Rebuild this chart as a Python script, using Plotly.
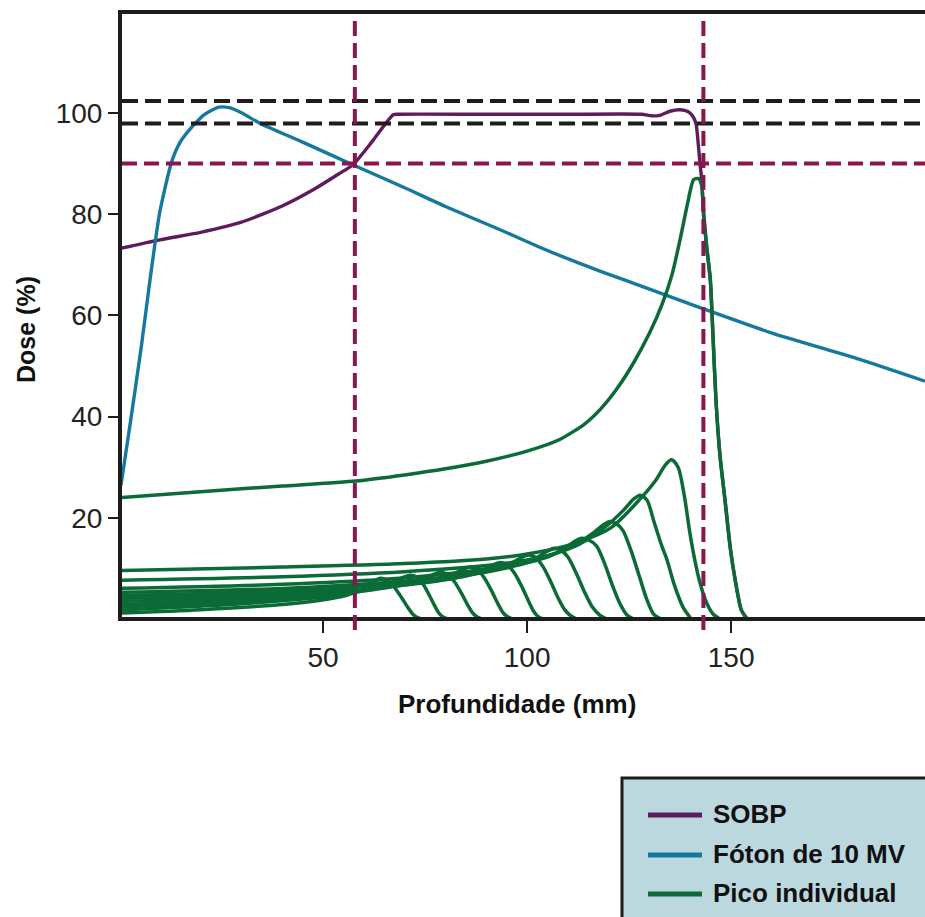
import plotly.graph_objects as go

# ---------------- data ----------------
SOBP_X = [0.3, 10, 20, 30, 40, 48, 54, 57.4, 62.3, 67.2, 68.5, 90, 110, 128, 130.5, 132.5, 135,
          137.5, 139.5, 140.6, 141.4, 142.0, 142.4, 142.8, 143.2, 144, 144.9, 145.6, 146.3, 147.3, 148.5,
          149.8, 151, 152.5, 154]
SOBP_Y = [73.2, 74.9, 76.4, 78.4, 81.6, 85.0, 88.0, 89.8, 94.6, 99.6, 99.7, 99.7, 99.7, 99.7, 99.4, 99.5, 100.3,
          100.6, 100.2, 99.3, 97.8, 93.3, 89.7, 86.7, 80.2, 73.6, 67.0, 55.0, 43.0, 32.0, 23.5,
          14.0, 7.7, 1.8, 0.0]

PHOTON_X = [0.5, 3.0, 5.5, 7.6, 10.0, 12.9, 15.0, 18.1, 21.0, 24.5, 27.0, 30.0, 34.6, 45, 57.4, 70, 80,
            93.4, 105, 118, 130, 142.5, 160, 180, 197.5]
PHOTON_Y = [26.5, 40.0, 54.0, 67.0, 80.4, 90.3, 94.2, 97.4, 99.7, 101.1, 101.0, 100.0, 97.9, 94.2, 89.7, 85.2,
            81.5, 76.9, 72.8, 68.7, 65.2, 61.5, 56.5, 51.7, 47.0]

PRISTINE_X = [0, 20, 40, 58, 70, 80, 90, 100, 108, 114, 118, 122, 126, 130, 133, 135.5, 137.5, 139.3, 140.8, 142.1,
              142.8, 143.3, 144, 144.9, 145.6, 146.3, 147.3, 148.5, 149.8, 151, 152.5, 154]
PRISTINE_Y = [24.0, 25.2, 26.3, 27.3, 28.5, 29.7, 31.2, 33.2, 35.5, 38.5, 41.5, 45.5, 50.5, 56.5, 62.0, 68.0, 75.0,
              82.0, 86.8, 87.0, 85.5, 80.0, 73.6, 67.0, 55.0, 43.0, 32.0, 23.5, 14.0, 7.7, 1.8, 0.0]

PEAK_A_X = [0, 40, 70, 90, 100, 110, 120.4, 127.4, 131.4, 133.9, 135.4, 137, 138.5, 139.9, 141.2, 142.4, 144, 145.6, 147]
PEAK_A_Y = [9.6, 10.3, 11.0, 11.9, 12.9, 14.6, 18.0, 23.5, 27.3, 30.5, 31.5, 30.0, 24.5, 17.0, 11.3, 7.1, 3.2, 1.0, 0.2]
PEAK_B_X = [0, 40, 70, 90, 100, 106, 112.7, 119.7, 123.7, 126.2, 127.7, 129.4, 131, 133, 134.3, 136, 138.2, 140]
PEAK_B_Y = [7.7, 8.4, 9.4, 10.6, 11.7, 12.8, 14.8, 18.6, 21.6, 23.8, 24.5, 23.5, 19.5, 14.5, 11.7, 7.0, 2.4, 0.3]
PEAK_C_X = [0, 40, 65, 85, 95, 105.3, 112.3, 116.3, 118.8, 120.3, 122, 123.5, 125.5, 127.5, 129.3, 131, 132.5]
PEAK_C_Y = [6.1, 6.9, 7.9, 9.4, 10.6, 12.5, 15.0, 17.1, 18.7, 19.3, 18.8, 17.5, 13.5, 8.5, 4.0, 1.0, 0.2]
PEAK_D_X = [0, 40, 65, 80, 90.4, 98.4, 105.4, 109.4, 111.9, 113.4, 115, 117, 119, 121, 122.8, 124.4, 125.8]
PEAK_D_Y = [5.3, 6.1, 7.2, 8.3, 9.4, 10.8, 12.4, 14.1, 15.5, 16.0, 15.7, 14.5, 11.0, 6.5, 3.0, 0.9, 0.2]
PEAK_E_X = [0, 40, 60, 75, 84, 91.6, 98.6, 102.6, 105.1, 106.6, 108.3, 110, 112, 114, 116, 117.8, 119.2]
PEAK_E_Y = [4.7, 5.6, 6.6, 7.7, 8.7, 9.7, 11.1, 12.3, 13.5, 14.0, 13.6, 12.3, 9.2, 5.5, 2.4, 0.8, 0.2]
PEAK_F_X = [0, 40, 60, 72, 80, 85.2, 92.2, 96.2, 98.7, 100.2, 101.9, 103.9, 105.8, 107.6, 109.2, 110.5, 111.8]
PEAK_F_Y = [4.1, 5.1, 6.2, 7.1, 7.9, 8.6, 9.9, 11.1, 12.2, 12.7, 12.3, 10.4, 7.4, 4.2, 1.9, 0.8, 0.2]
PEAK_G_X = [0, 35, 55, 68, 74, 78.4, 85.4, 89.4, 91.9, 93.4, 95.1, 97, 98.8, 100.4, 101.6, 102.6, 103.8]
PEAK_G_Y = [3.5, 4.5, 5.6, 6.6, 7.1, 7.6, 8.7, 9.8, 10.8, 11.2, 10.8, 9.0, 6.3, 3.5, 1.6, 0.6, 0.1]
PEAK_H_X = [0, 30, 50, 62, 71, 78, 82, 84.5, 86, 87.7, 89.5, 91.3, 92.9, 94.1, 95.2, 96.3]
PEAK_H_Y = [2.9, 3.9, 5.0, 6.0, 6.9, 8.0, 9.0, 9.9, 10.3, 9.9, 8.2, 5.6, 3.0, 1.3, 0.5, 0.1]
PEAK_I_X = [0, 30, 48, 58, 63.7, 70.7, 74.7, 77.2, 78.7, 80.4, 82.2, 84, 85.6, 86.7, 87.7, 88.8]
PEAK_I_Y = [2.4, 3.5, 4.6, 5.4, 6.0, 7.1, 8.1, 8.9, 9.3, 8.9, 7.4, 5.0, 2.6, 1.2, 0.5, 0.1]
PEAK_J_X = [0, 25, 42, 52, 56.3, 63.3, 67.3, 69.8, 71.3, 73, 74.6, 76.2, 77.6, 78.6, 79.5, 80.5]
PEAK_J_Y = [1.8, 2.8, 3.8, 4.6, 5.1, 6.3, 7.4, 8.3, 8.7, 8.3, 6.8, 4.5, 2.3, 1.0, 0.4, 0.1]
PEAK_K_X = [0, 20, 40, 49, 56, 60, 62.5, 64, 65.7, 67.5, 69.3, 70.9, 72, 73, 74]
PEAK_K_Y = [1.2, 1.9, 2.9, 3.7, 4.8, 6.2, 7.5, 8.1, 7.7, 6.3, 4.2, 2.2, 1.0, 0.4, 0.1]

SMALL_PEAKS = [(PEAK_A_X, PEAK_A_Y), (PEAK_B_X, PEAK_B_Y), (PEAK_C_X, PEAK_C_Y), (PEAK_D_X, PEAK_D_Y),
               (PEAK_E_X, PEAK_E_Y), (PEAK_F_X, PEAK_F_Y), (PEAK_G_X, PEAK_G_Y), (PEAK_H_X, PEAK_H_Y),
               (PEAK_I_X, PEAK_I_Y), (PEAK_J_X, PEAK_J_Y), (PEAK_K_X, PEAK_K_Y)]

REF_DOSE_BLACK = [102.3, 97.9]
REF_DOSE_PURPLE = [90.0]
REF_DEPTH_PURPLE = [57.8, 143.2]

X_TICKS = [50, 100, 150]
Y_TICKS = [20, 40, 60, 80, 100]
LEGEND_LABELS = ["SOBP", "Fóton de 10 MV", "Pico individual"]

# ---------------- styles ----------------
C_SOBP = "#5f1b5c"
C_PHOTON = "#15789f"
C_PEAK = "#0a6b36"
C_DASH_P = "#8a1650"
C_BLACK = "#1f1c1d"
FONT = "Liberation Sans, Arial, sans-serif"

W, H = 925, 917
L, R, T, B = 122, 0, 14, 300
PW, PH = W - L - R, H - T - B


def px(xp):
    return (xp - L) / PW


def py(yp):
    return (H - B - yp) / PH


fig = go.Figure()

fig.add_trace(go.Scatter(x=SOBP_X, y=SOBP_Y, mode="lines", line=dict(color=C_SOBP, width=3.4, shape="spline", smoothing=0.6),
                         showlegend=False, hoverinfo="skip"))
fig.add_trace(go.Scatter(x=PHOTON_X, y=PHOTON_Y, mode="lines", line=dict(color=C_PHOTON, width=3.4, shape="spline", smoothing=0.6),
                         showlegend=False, hoverinfo="skip"))
fig.add_trace(go.Scatter(x=PRISTINE_X, y=PRISTINE_Y, mode="lines", line=dict(color=C_PEAK, width=3.5, shape="spline", smoothing=0.6),
                         showlegend=False, hoverinfo="skip"))
for xs, ys in SMALL_PEAKS:
    fig.add_trace(go.Scatter(x=xs, y=ys, mode="lines", line=dict(color=C_PEAK, width=3.5, shape="spline", smoothing=0.8),
                             showlegend=False, hoverinfo="skip"))

shapes = []
for yv in REF_DOSE_BLACK:
    shapes.append(dict(type="line", xref="paper", yref="y", x0=0, x1=1, y0=yv, y1=yv,
                       line=dict(color=C_BLACK, width=4, dash="16px,7px"), layer="above"))
for yv in REF_DOSE_PURPLE:
    shapes.append(dict(type="line", xref="paper", yref="y", x0=0, x1=1, y0=yv, y1=yv,
                       line=dict(color=C_DASH_P, width=4, dash="15px,7px"), layer="above"))
for xv in REF_DEPTH_PURPLE:
    shapes.append(dict(type="line", xref="x", yref="paper", x0=xv, x1=xv, y0=py(630), y1=1,
                       line=dict(color=C_DASH_P, width=4, dash="15px,7px"), layer="above"))

# legend box (custom)
shapes.append(dict(type="rect", xref="paper", yref="paper", x0=px(622), x1=px(935), y0=py(778), y1=py(935),
                   line=dict(color=C_BLACK, width=3), fillcolor="#bcd8df", layer="above"))
row_y = [814, 854, 893]
leg_colors = [C_SOBP, C_PHOTON, C_PEAK]
annotations = []
for lab, col, ry in zip(LEGEND_LABELS, leg_colors, row_y):
    shapes.append(dict(type="line", xref="paper", yref="paper", x0=px(648), x1=px(702), y0=py(ry + 1), y1=py(ry + 1),
                       line=dict(color=col, width=5), layer="above"))
    annotations.append(dict(xref="paper", yref="paper", x=px(711), y=py(ry), xanchor="left", yanchor="middle",
                            text="<b>" + lab + "</b>", showarrow=False,
                            font=dict(family=FONT, size=26, color="#111111")))

annotations.append(dict(xref="paper", yref="paper", x=px(517), y=py(704), xanchor="center", yanchor="middle",
                        text="<b>Profundidade (mm)</b>", showarrow=False,
                        font=dict(family=FONT, size=26, color="#111111")))
annotations.append(dict(xref="paper", yref="paper", x=px(26), y=py(330), xanchor="center", yanchor="middle",
                        text="<b>Dose (%)</b>", showarrow=False, textangle=-90,
                        font=dict(family=FONT, size=25, color="#111111")))

fig.update_layout(
    width=W, height=H,
    margin=dict(l=L, r=R, t=T, b=B, pad=0),
    paper_bgcolor="white", plot_bgcolor="white",
    shapes=shapes, annotations=annotations,
    showlegend=False,
    xaxis=dict(range=[0.74, 197.5], tickvals=X_TICKS, ticktext=[str(v) for v in X_TICKS],
               showgrid=False, zeroline=False, showline=True, linecolor=C_BLACK, linewidth=4, mirror=True,
               ticks="outside", ticklen=12, tickwidth=2, tickcolor=C_BLACK,
               tickfont=dict(family=FONT, size=28, color="#222222")),
    yaxis=dict(range=[0.45, 119.5], tickvals=Y_TICKS, ticktext=[str(v) for v in Y_TICKS],
               showgrid=False, zeroline=False, showline=True, linecolor=C_BLACK, linewidth=4,
               ticks="outside", ticklen=10, tickwidth=2, tickcolor=C_BLACK,
               tickfont=dict(family=FONT, size=28, color="#222222")),
)

fig.write_html("out.html")
